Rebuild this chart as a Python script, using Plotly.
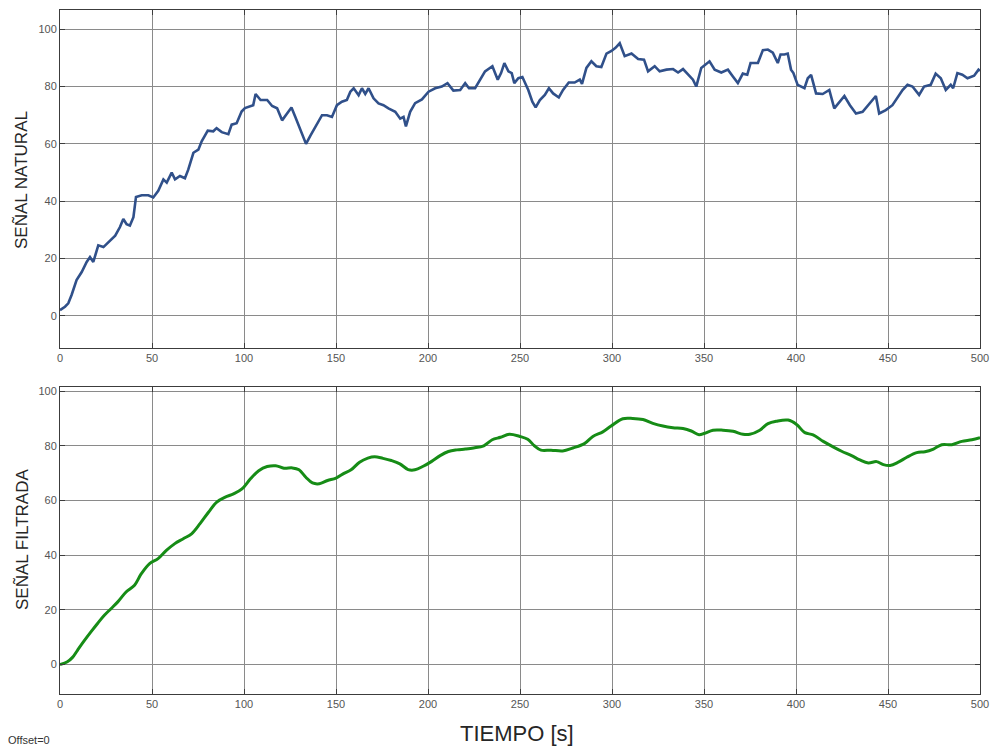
import plotly.graph_objects as go

# --- Data ---
t_natural = [0, 2.7, 4.5, 6.3, 9, 11.8, 14.5, 16.3, 18.1, 20.8, 23.6, 27.2, 30, 32.6, 34.4, 36.2, 38, 39.9,
             41.3, 44.4, 48, 50.7, 53.4, 56.2, 58, 60.7, 62.5, 65.2, 67.9, 69.7, 72.5, 75.2, 77, 80.3, 83.3,
             85.1, 87.9, 91.5, 93.3, 96, 98.7, 100.5, 102.7, 105, 106.3, 109, 112.6, 115.3, 118, 120.7, 123.4,
             125.8, 127.9, 130.6, 133.7, 136.1, 138.8, 142.4, 145.1, 147.8, 150.5, 153.2, 155.9, 157.8, 159.6,
             162.3, 164.1, 165.9, 167.7, 170.4, 173.1, 175.8, 178.5, 182.2, 184.9, 186.7, 188, 190.3, 193,
             196.7, 200.3, 203.9, 207.5, 210.6, 213.8, 217.5, 220.2, 222.3, 225.6, 228.3, 231, 235, 237.9,
             239.7, 241.5, 243.7, 245.5, 246.9, 249.1, 251.3, 254.5, 256.7, 258.5, 260.8, 263.5, 265.7, 268,
             271.1, 273.4, 276.5, 279.7, 282.5, 283.7, 286.1, 288.8, 291.5, 294.2, 297, 299.7, 301.9, 304.2,
             306.9, 310.6, 314.2, 317.4, 319.6, 323.2, 325.9, 329.6, 333.2, 335.9, 338.6, 341.3, 344, 345.8,
             348.5, 353, 355.8, 359.4, 363, 365.7, 368.4, 371.1, 373.5, 375.3, 379.3, 382, 384.7, 387.4,
             390.1, 391.6, 393.7, 395.5, 397.3, 398.6, 400.9, 404.6, 406.4, 408.2, 410.9, 414.5, 418.1,
             420.8, 423.5, 426.3, 429.3, 432.6, 436.2, 439.8, 443.4, 445.2, 448.8, 452.4, 455.1, 457.9,
             460.6, 463.3, 466.9, 469.6, 473.2, 475.9, 478.7, 481.4, 484.1, 485.4, 487.7, 490.4, 493.2,
             496.8, 499.2, 500]
v_natural = [2, 3.2, 4.4, 7.3, 12.5, 15.3, 18.8, 20.5, 18.8, 24.6, 24, 26.3, 28, 31, 33.8, 32, 31.5, 34.4,
             41.5, 42.1, 42.1, 41.3, 43.6, 47.6, 46.5, 50, 47.6, 48.8, 48, 51, 56.9, 58, 60.9, 64.6, 64.4,
             65.5, 64.1, 63.4, 66.7, 67.2, 71.3, 72.5, 73, 73.5, 77.4, 75.3, 75.3, 73.2, 72.4, 68.2, 70.6,
             72.7, 69.4, 64.7, 60, 62.9, 65.9, 70, 70, 69.4, 73.5, 74.7, 75.3, 78.2, 79.4,
             77, 79.4, 77.4, 79.4, 75.9, 74.1, 73.5, 72.4, 71.2, 68.8, 69.4, 66.1, 71.2, 74.2,
             75.5, 78.2, 79.4, 80, 81.2, 78.6, 78.8, 81.2, 79.4, 79.4, 82.4, 85.3, 87.1, 82.4,
             84.7, 88.2, 85.3, 84.7, 81.2, 82.9, 83.3, 78.8, 74.7, 72.7, 75.3, 77.1, 79.4, 77.6,
             76.2, 78.8, 81.4, 81.4, 82.4, 80.9, 86.5, 88.8, 87.1, 86.8, 91.5, 92.4, 93.5, 95.1,
             90.6, 91.5, 89.6, 89.4, 85.3, 87.1, 85.3, 85.9, 86.1, 84.9, 86.1, 84.1, 82.4, 80,
             86.5, 88.8, 85.9, 84.9, 85.9, 83.5, 81.2, 84.5, 84.1, 88.2, 88.2, 92.7, 92.9, 91.8,
             88.2, 91.2, 91.2, 91.5, 85.9, 84.7, 80.6, 79.4, 82.9, 84.1, 77.6, 77.4, 78.8,
             72.4, 74.7, 76.7, 73.5, 70.6, 71.2, 74.1, 76.7, 70.6, 71.8, 73.5, 75.9, 78.8,
             80.6, 80, 77.1, 80, 80.6, 84.5, 82.9, 78.8, 80.6, 79.4, 84.7, 84.1, 82.9,
             83.8, 85.9, 85.5]

t_filtered = [0, 4, 6.8, 9.5, 13.1, 16.8, 20.4, 24.1, 27.7, 31.4, 35.9, 40.5, 44.2, 48.7, 53.3, 57.8, 62.4,
              67, 71.5, 76.1, 80.7, 85.2, 89.8, 94.3, 98.9, 103.5, 108, 112.6, 117.2, 121.7, 126.3, 129.9,
              133.6, 137.2, 140.9, 145.4, 150, 154.6, 158.2, 162.8, 167.3, 171, 175.5, 180.1, 184.7, 189.2,
              192.9, 197.4, 202, 206.6, 211.1, 215.7, 220.3, 224.8, 230.3, 234.9, 239.4, 244.2, 249.6,
              254.2, 257.8, 261.4, 266.9, 273.2, 278.7, 285, 289.6, 295, 299.5, 305.9, 311.3, 316.8,
              322.2, 327.7, 333.1, 338.6, 343.1, 347.3, 350.4, 354.9, 360.3, 365.8, 371.2, 374.9, 380.3,
              384.8, 389.4, 395.7, 400.3, 404.8, 409.3, 414.8, 420.2, 424.8, 430.2, 434.7, 439.3, 443.8,
              447.5, 451.1, 455.6, 460.2, 465.6, 470.1, 474.7, 479.2, 484.7, 490.1, 495.6, 500]
v_filtered = [0, 1, 2.6, 5.2, 8.6, 11.9, 15, 18, 20.4, 22.9, 26.5, 29, 33.2, 36.9, 38.7, 41.7, 44.2,
              46, 47.8, 51.5, 55.7, 59.4, 61.2, 62.4, 64.2, 67.9, 70.9, 72.4, 72.7, 71.8, 71.9, 71.2,
              68.5, 66.4, 66.1, 67.3, 68.2, 70, 71.2, 74, 75.5, 76, 75.4, 74.6, 73.4, 71.3,
              71.2, 72.5, 74.3, 76.4, 77.9, 78.5, 78.8, 79.2, 80, 82.2, 83.1, 84.2, 83.5,
              82.4, 80, 78.4, 78.4, 78.1, 79.2, 80.8, 83.4, 85.1, 87.2, 89.9, 90, 89.6,
              88.2, 87.2, 86.6, 86.3, 85.4, 84, 84.6, 85.7, 85.7, 85.3, 84.2, 84.2, 85.7,
              88.1, 89, 89.4, 87.8, 84.8, 84, 81.6, 79.6, 78, 76.4, 74.8, 73.7, 74.2,
              73.1, 72.8, 74, 75.8, 77.5, 77.8, 78.8, 80.4, 80.4, 81.6, 82.2, 83]

x_ticks = [0, 50, 100, 150, 200, 250, 300, 350, 400, 450, 500]
y_ticks = [0, 20, 40, 60, 80, 100]

W, H = 993, 747
ML, MR, MT, MB = 60, 13, 10, 53
plot_h = H - MT - MB

FONT = "Liberation Sans, Arial, sans-serif"
GRID = "#8a8a8a"
FRAME = "#3c3c3c"
TICKFONT = dict(family=FONT, size=11, color="#555555")

fig = go.Figure()
fig.add_trace(go.Scatter(x=t_natural, y=v_natural, mode="lines",
                         line=dict(color="#30508a", width=2.6), xaxis="x", yaxis="y",
                         showlegend=False, hoverinfo="skip"))
fig.add_trace(go.Scatter(x=t_filtered, y=v_filtered, mode="lines", line_shape="spline",
                         line=dict(color="#168c16", width=3), xaxis="x2", yaxis="y2",
                         showlegend=False, hoverinfo="skip"))

def xax(anchor):
    return dict(range=[0, 500], tickvals=x_ticks, ticktext=[str(v) for v in x_ticks],
                showgrid=True, gridcolor=GRID, gridwidth=1, zeroline=False,
                showline=True, linecolor=FRAME, linewidth=1, mirror="ticks",
                ticks="inside", ticklen=5, tickcolor=FRAME, tickfont=TICKFONT,
                anchor=anchor, domain=[0, 1], automargin=False)

def yax(anchor, rng, dom):
    return dict(range=rng, tickvals=y_ticks, ticktext=[str(v) for v in y_ticks],
                showgrid=True, gridcolor=GRID, gridwidth=1, zeroline=False,
                showline=True, linecolor=FRAME, linewidth=1, mirror="ticks",
                ticks="inside", ticklen=5, tickcolor=FRAME, tickfont=TICKFONT,
                anchor=anchor, domain=dom, automargin=False)

top_dom = [(H - MB - 348) / plot_h, 1.0]
bot_dom = [0.0, (H - MB - 387) / plot_h]

fig.update_layout(
    width=W, height=H,
    margin=dict(l=ML, r=MR, t=MT, b=MB, autoexpand=False),
    paper_bgcolor="white", plot_bgcolor="white",
    xaxis=xax("y"), yaxis=yax("x", [-11.2, 106.7], top_dom),
    xaxis2=xax("y2"), yaxis2=yax("x2", [-10.8, 101.5], bot_dom),
    font=dict(family=FONT),
)

def px_to_paper_x(px):
    return (px - ML) / (W - ML - MR)

def px_to_paper_y(py):
    return (H - MB - py) / plot_h

annotations = [
    dict(text="SEÑAL NATURAL", x=px_to_paper_x(22), y=px_to_paper_y(180), textangle=-90,
         font=dict(family=FONT, size=17, color="#262626")),
    dict(text="SEÑAL FILTRADA", x=px_to_paper_x(22), y=px_to_paper_y(540), textangle=-90,
         font=dict(family=FONT, size=17, color="#262626")),
    dict(text="TIEMPO [s]", x=px_to_paper_x(517), y=px_to_paper_y(733),
         font=dict(family=FONT, size=22, color="#262626")),
    dict(text="Offset=0", x=px_to_paper_x(6), y=px_to_paper_y(740), xanchor="left",
         font=dict(family=FONT, size=11, color="#333333")),
]
for a in annotations:
    a.setdefault("xanchor", "center")
    a.update(xref="paper", yref="paper", yanchor="middle", showarrow=False)
fig.update_layout(annotations=annotations)

fig.write_html("out.html")
